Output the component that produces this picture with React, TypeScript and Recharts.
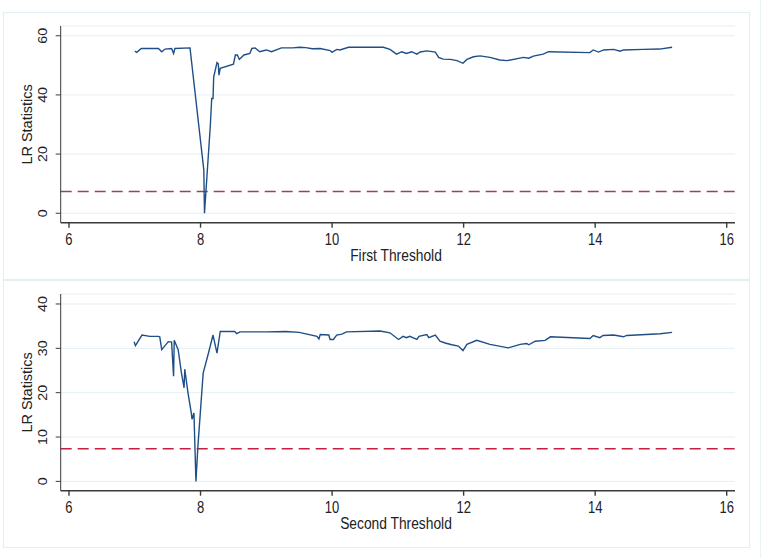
import React from 'react';
import { LineChart, Line, XAxis, YAxis, CartesianGrid, ReferenceLine } from 'recharts';

const xTicks = [6, 8, 10, 12, 14, 16];
const topYTicks = [0, 20, 40, 60];
const bottomYTicks = [0, 10, 20, 30, 40];
const criticalValue = 7.35;

const firstThreshold = [
  7.0, 7.03, 7.1, 7.36, 7.41, 7.46, 7.56, 7.59, 7.61, 7.84, 8.05, 8.06, 8.15, 8.17, 8.19, 8.2, 8.25, 8.27, 8.28, 8.3,
  8.5, 8.53, 8.56, 8.59, 8.66, 8.75, 8.78, 8.83, 8.9, 9.0, 9.08, 9.23, 9.4, 9.51, 9.6, 9.7, 9.82, 9.97, 10.0, 10.07,
  10.12, 10.25, 10.78, 10.88, 10.98, 11.06, 11.13, 11.21, 11.29, 11.34, 11.44, 11.57, 11.62, 11.69, 11.8, 11.9, 11.99,
  12.05, 12.15, 12.25, 12.4, 12.55, 12.66, 12.91, 12.99, 13.06, 13.21, 13.29, 13.92, 13.97, 14.05, 14.13, 14.28, 14.38,
  14.43, 14.73, 14.98, 15.17,
];
const firstLR = [
  54.8, 54.4, 55.7, 55.7, 54.6, 55.5, 55.7, 54.0, 55.7, 55.9, 14.6, 0, 30, 38.8, 38.8, 46, 50.9, 50.5, 46.7, 49,
  50.4, 53.5, 53.5, 52, 53.5, 54, 55.7, 55.9, 54.6, 55.2, 54.6, 55.9, 55.9, 56.1, 56.0, 55.6, 55.7, 55.0, 54.4, 55.4,
  55.2, 56.1, 56.1, 55.4, 53.8, 54.6, 54.0, 54.6, 53.8, 54.5, 54.9, 54.5, 52.7, 52.1, 52.0, 51.6, 50.7,
  52.0, 52.9, 53.2, 52.7, 51.8, 51.6, 52.7, 52.4, 53.1, 53.8, 54.6, 54.3, 55.2, 54.5, 55.2, 55.4, 54.8,
  55.2, 55.4, 55.5, 56.1,
];

const secondThreshold = [
  6.99, 7.01, 7.11, 7.23, 7.36, 7.38, 7.41, 7.51, 7.56, 7.59, 7.6, 7.66, 7.71, 7.75, 7.76, 7.81, 7.86, 7.87, 7.9, 7.93,
  7.96, 8.04, 8.12, 8.19, 8.25, 8.3, 8.52, 8.55, 8.6, 9.0, 9.3, 9.5, 9.77, 9.8, 9.82, 9.95, 9.97, 10.02, 10.07, 10.15,
  10.22, 10.73, 10.88, 11.01, 11.08, 11.13, 11.18, 11.29, 11.32, 11.44, 11.47, 11.57, 11.64, 11.72, 11.82, 11.92, 11.99,
  12.05, 12.2, 12.4, 12.68, 12.86, 12.96, 12.99, 13.09, 13.24, 13.32, 13.92, 13.97, 14.07, 14.12, 14.28, 14.43, 14.48,
  14.99, 15.17,
];
const secondLR = [
  31.5, 30.6, 33.0, 32.7, 32.7, 32.6, 29.7, 31.5, 31.4, 23.7, 31.8, 29.7, 24.4, 21.1, 25.3, 19.9, 15.4, 14.0, 15.4, 0,
  7.9, 24.4, 28.9, 33.0, 28.9, 33.8, 33.8, 33.3, 33.7, 33.7, 33.8, 33.6, 32.7, 32.1, 33.1, 33.0, 32.0, 32.0, 33.0, 33.2,
  33.7, 33.9, 33.5, 32.0, 32.7, 32.4, 32.7, 32.0, 32.7, 33.1, 32.4, 33.0, 31.6, 31.2, 30.8, 30.5, 29.5,
  30.9, 31.8, 30.9, 30.1, 30.9, 31.1, 30.8, 31.6, 31.8, 32.6, 32.2, 32.9, 32.4, 32.9, 33.0, 32.6, 32.9,
  33.3, 33.6,
];

const zip = (xs: number[], ys: number[]) => xs.map((x, i) => ({ x, y: ys[i] }));
const firstData = zip(firstThreshold, firstLR);
const secondData = zip(secondThreshold, secondLR);

const FONT = 'Arial, "Liberation Sans", Helvetica, sans-serif';
const TEXT = '#222';
const AXIS = '#3a3a3a';

const XTick = (props: any) => {
  const { x, y, payload } = props;
  return (
    <g transform={`translate(${x},${y}) scale(1,1.25)`}>
      <text x={0} y={12.5} textAnchor="middle" fontFamily={FONT} fontSize={13} fill={TEXT}>
        {payload.value}
      </text>
    </g>
  );
};

const YTick = (props: any) => {
  const { x, y, payload } = props;
  return (
    <g transform={`translate(${x},${y}) scale(1,1.1) rotate(-90)`}>
      <text x={0} y={-6.4} textAnchor="middle" fontFamily={FONT} fontSize={13} fill={TEXT}>
        {payload.value}
      </text>
    </g>
  );
};

type PanelProps = {
  data: { x: number; y: number }[];
  yDomain: [number, number];
  yTicks: number[];
  xLabel: string;
  dashColor: string;
  top: number;
};

const Panel = ({ data, yDomain, yTicks, xLabel, dashColor, top }: PanelProps) => (
  <div style={{ position: 'absolute', left: 0, top, width: 765, height: 279 }}>
    <LineChart width={765} height={279} data={data} margin={{ top: 26, right: 30, bottom: 0, left: 0 }}>
      <CartesianGrid vertical={false} stroke="#e4eff3" strokeWidth={1} />
      <XAxis
        type="number"
        dataKey="x"
        domain={[5.874, 16.126]}
        ticks={xTicks}
        height={56.3}
        allowDataOverflow
        stroke={AXIS}
        strokeWidth={1.4}
        tickSize={5}
        tick={<XTick />}
        label={{
          content: () => (
            <g transform="translate(396,260.7) scale(1,1.25)">
              <text x={0} y={0} textAnchor="middle" fontFamily={FONT} fontSize={13.8} fill={TEXT}>
                {xLabel}
              </text>
            </g>
          ),
        }}
      />
      <YAxis
        type="number"
        domain={yDomain}
        ticks={yTicks}
        width={60.7}
        allowDataOverflow
        stroke={AXIS}
        strokeWidth={1}
        tickSize={5}
        tick={<YTick />}
        label={{
          content: () => (
            <g transform="translate(32.3,124.4) scale(1,1.05) rotate(-90)">
              <text x={0} y={0} textAnchor="middle" fontFamily={FONT} fontSize={13.8} fill={TEXT}>
                LR Statistics
              </text>
            </g>
          ),
        }}
      />
      <ReferenceLine y={criticalValue} stroke={dashColor} strokeWidth={1.4} strokeDasharray="11 6" />
      <Line
        type="linear"
        dataKey="y"
        stroke="#1f4f86"
        strokeWidth={1.4}
        dot={false}
        isAnimationActive={false}
      />
    </LineChart>
  </div>
);

export default function App() {
  return (
    <div style={{ position: 'absolute', left: 0, top: 0, width: 765, height: 558, background: '#fff', overflow: 'hidden' }}>
      <div style={{ position: 'absolute', left: 3, top: 12, width: 745, height: 266, border: '1px solid #e2eef2' }} />
      <div style={{ position: 'absolute', left: 3, top: 280, width: 745, height: 266, border: '1px solid #e2eef2' }} />
      <div style={{ position: 'absolute', left: 760, top: 0, width: 1, height: 558, background: '#e8f1f4' }} />
      <Panel data={firstData} yDomain={[-3.2, 63.3]} yTicks={topYTicks} xLabel="First Threshold" dashColor="#9c4447" top={0} />
      <Panel data={secondData} yDomain={[-2.1, 42.25]} yTicks={bottomYTicks} xLabel="Second Threshold" dashColor="#c3203e" top={268.3} />
    </div>
  );
}
